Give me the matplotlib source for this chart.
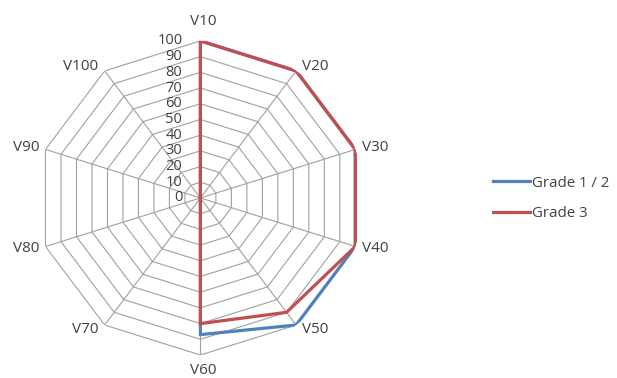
import numpy as np
import matplotlib
matplotlib.use("Agg")
import matplotlib.pyplot as plt

plt.rcParams["font.family"] = ["Open Sans", "DejaVu Sans"]

# categories run clockwise from the top
categories = ["V10", "V20", "V30", "V40", "V50", "V60", "V70", "V80", "V90", "V100"]
grade_12 = [100, 100, 100, 100, 100, 87, 0, 0, 0, 0]
grade_3 = [100, 100, 100, 100, 90, 80, 0, 0, 0, 0]
ring_values = [0, 10, 20, 30, 40, 50, 60, 70, 80, 90, 100]

blue = "#4f81bd"
red = "#c0504d"
grid_col = "#a0a0a0"
text_col = "#404040"

n = len(categories)
theta = np.arange(n) * 2 * np.pi / n
theta_c = np.append(theta, theta[0])

fig = plt.figure(figsize=(6.17, 3.78), dpi=100, facecolor="white")
ax = fig.add_axes([0.0608, 0.0608, 0.528, 0.831], projection="polar")
ax.set_aspect("auto")
ax.set_theta_zero_location("N")
ax.set_theta_direction(-1)
ax.set_ylim(0, 100)
ax.grid(False)
ax.spines["polar"].set_visible(False)
ax.set_xticks([])
ax.set_yticks([])
ax.patch.set_alpha(0)

# polygon rings and spokes
for r in ring_values[1:]:
    ax.plot(theta_c, [r] * (n + 1), color=grid_col, lw=0.8, zorder=1)
for t in theta:
    ax.plot([t, t], [0, 100], color=grid_col, lw=0.8, zorder=1)

def closed(vals):
    return np.append(vals, vals[0])

ax.plot(theta_c, closed(grade_12), color=blue, lw=2.3, zorder=3,
        solid_joinstyle="miter", label="Grade 1 / 2")
ax.plot(theta_c, closed(grade_3), color=red, lw=2.3, zorder=4,
        solid_joinstyle="miter", label="Grade 3")

# radial tick labels beside the first spoke
for r in ring_values:
    ax.annotate(str(r), xy=(0, r), xytext=(-13, 0), textcoords="offset points",
                ha="right", va="center", fontsize=10.5, color=text_col)

# category labels around the outside
for t, lab in zip(theta, categories):
    s = np.sin(t)
    c = np.cos(t)
    if abs(s) < 0.1:
        ha = "center"
        off = (2, 14) if c > 0 else (2, -11)
    else:
        ha = "left" if s > 0 else "right"
        off = (4.5 * np.sign(s), 4 * c)
    ax.annotate(lab, xy=(t, 100), xytext=off, textcoords="offset points",
                ha=ha, va="center", fontsize=11, color=text_col)

fig.legend(loc="center left", bbox_to_anchor=(0.799, 0.475), frameon=False,
           borderpad=0, borderaxespad=0,
           fontsize=10.8, handlelength=2.45, handletextpad=0.15, labelspacing=1.05,
           labelcolor=text_col)

fig.savefig("out.png", dpi=100, facecolor="white")
